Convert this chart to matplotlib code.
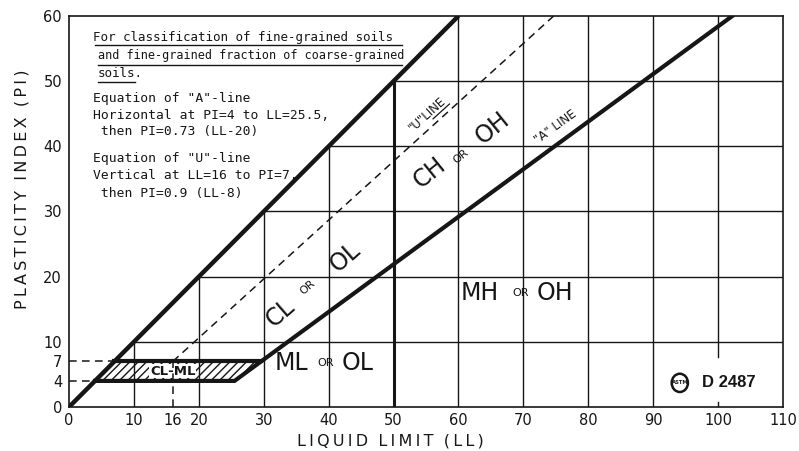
"""
Plasticity chart (ASTM D 2487) for fine-grained soils.
"""

import numpy as np
import matplotlib
matplotlib.use("Agg")
import matplotlib.pyplot as plt
from matplotlib.patches import Polygon, Ellipse

# axis values
ll_ticks = [0, 10, 16, 20, 30, 40, 50, 60, 70, 80, 90, 100, 110]
pi_ticks = [0, 4, 7, 10, 20, 30, 40, 50, 60]
grid_ll = [10, 20, 30, 40, 50, 60, 70, 80, 90, 100]
grid_pi = [10, 20, 30, 40, 50]
ll_max = 110
pi_max = 60

# "A"-line: horizontal at PI=4 to LL=25.5, then PI = 0.73 (LL - 20)
a_pi_flat = 4
a_ll_break = 25.5
a_slope = 0.73
a_offset = 20

# "U"-line: vertical at LL=16 to PI=7, then PI = 0.9 (LL - 8)
u_ll_vert = 16
u_pi_vert = 7
u_slope = 0.9
u_offset = 8

ll_split = 50  # low / high liquid limit boundary

note_lines = [
    "For classification of fine-grained soils",
    "and fine-grained fraction of coarse-grained",
    "soils.",
    'Equation of "A"-line',
    "Horizontal at PI=4 to LL=25.5,",
    " then PI=0.73 (LL-20)",
    'Equation of "U"-line',
    "Vertical at LL=16 to PI=7,",
    " then PI=0.9 (LL-8)",
]

INK = "#161616"
MONO = "DejaVu Sans Mono"


def a_line_ll(pi):
    return a_offset + pi / a_slope


def u_line_ll(pi):
    return u_offset + pi / u_slope


def spaced(s):
    return "\u2009".join(s).replace("\u2009 \u2009", "  ")


fig = plt.figure(figsize=(7.99, 4.51), dpi=100)
ax = fig.add_axes([0.0864, 0.0976, 0.8936, 0.8670])
ax.set_xlim(0, ll_max)
ax.set_ylim(0, pi_max)

for side in ["left", "right", "top", "bottom"]:
    ax.spines[side].set_linewidth(1.2)
    ax.spines[side].set_color(INK)

ax.set_xticks(ll_ticks)
ax.set_yticks(pi_ticks)
ax.tick_params(axis="x", length=0, pad=4, labelsize=10.5, colors=INK)
ax.tick_params(axis="y", direction="in", length=5, width=1.2, pad=5,
               labelsize=10.5, colors=INK)
for t in ax.yaxis.get_major_ticks():
    if t.get_loc() in (0, 4, 7, 60):
        t.tick1line.set_visible(False)

# grid, only below the PI = LL boundary
stamp_gap = (0.8, 7.7)
for x in grid_ll:
    top = min(x, pi_max)
    if x == ll_split:
        ax.plot([x, x], [0, top], color=INK, lw=2.2, solid_capstyle="butt",
                zorder=3)
    elif x == 100:
        ax.plot([x, x], [0, stamp_gap[0]], color=INK, lw=1.0, zorder=1)
        ax.plot([x, x], [stamp_gap[1], top], color=INK, lw=1.0, zorder=1)
    else:
        ax.plot([x, x], [0, top], color=INK, lw=1.0, zorder=1)
for y in grid_pi:
    ax.plot([y, ll_max], [y, y], color=INK, lw=1.0, zorder=1)

# upper boundary PI = LL
ax.plot([0, pi_max], [0, pi_max], color=INK, lw=3.2, zorder=4,
        solid_capstyle="butt")

# "A"-line
a_x = [a_pi_flat, a_ll_break, a_line_ll(pi_max)]
a_y = [a_pi_flat, a_pi_flat, pi_max]
ax.plot(a_x, a_y, color=INK, lw=3.0, zorder=4, solid_joinstyle="miter")

# CL-ML zone
zone = [(a_pi_flat, a_pi_flat), (a_ll_break, a_pi_flat),
        (a_line_ll(u_pi_vert), u_pi_vert), (u_pi_vert, u_pi_vert)]
ax.add_patch(Polygon(zone, closed=True, facecolor="none", edgecolor=INK,
                     lw=0, hatch="////", zorder=2))
ax.plot([u_pi_vert, a_line_ll(u_pi_vert)], [u_pi_vert, u_pi_vert],
        color=INK, lw=3.0, zorder=4)

# "U"-line
dash = (0, (5, 3.5))
ax.plot([u_ll_vert, u_ll_vert], [0, u_pi_vert], color=INK, lw=1.1,
        linestyle=dash, zorder=6)
ax.plot([u_ll_vert, u_line_ll(pi_max)], [u_pi_vert, pi_max], color=INK,
        lw=1.1, linestyle=dash, zorder=3)

# dashed guides at PI = 4 and 7
for y in (a_pi_flat, u_pi_vert):
    ax.plot([0, y], [y, y], color=INK, lw=1.1, linestyle=dash, zorder=3)

# notes
note_y = [56.7, 53.9, 51.2, 47.3, 44.7, 42.2, 38.1, 35.5, 32.8]
note_x = [3.7, 4.4, 4.4, 3.7, 3.7, 3.7, 3.7, 3.7, 3.7]
note_size = [9.0, 8.5, 9.0, 9.4, 9.4, 9.4, 9.4, 9.4, 9.4]
for s, x, y, fs in zip(note_lines, note_x, note_y, note_size):
    ax.text(x, y, s, family=MONO, fontsize=fs, color=INK,
            va="center", ha="left", zorder=5)
ax.plot([4.0, 51.3], [55.5, 55.5], color=INK, lw=1.0, zorder=5)
ax.plot([4.4, 51.3], [52.5, 52.5], color=INK, lw=1.0, zorder=5)
ax.plot([4.4, 10.2], [49.9, 49.9], color=INK, lw=1.0, zorder=5)


def group(items, rot):
    for x, y, s, size in items:
        ax.text(x, y, s, fontsize=size, rotation=rot, color=INK,
                ha="center", va="center", rotation_mode="anchor", zorder=5)


group([(32.5, 14.4, "CL", 17), (36.8, 18.4, "OR", 8), (42.5, 23.0, "OL", 17)],
      41)
group([(55.6, 35.9, "CH", 17), (60.3, 38.5, "OR", 8), (65.3, 42.8, "OH", 17)],
      39)
group([(63.3, 17.5, "MH", 17), (69.6, 17.5, "OR", 8), (74.9, 17.5, "OH", 17)],
      0)
group([(34.3, 6.7, "ML", 17), (39.5, 6.7, "OR", 8), (44.4, 6.7, "OL", 17)],
      0)

# line labels
u_ang = 42
ax.text(55.2, 44.9, '"U"LINE', fontsize=8.5, rotation=u_ang, color=INK,
        ha="center", va="center", rotation_mode="anchor", zorder=5)
d = np.array([np.cos(np.radians(u_ang)), np.sin(np.radians(u_ang))])
n = np.array([d[1], -d[0]])
p0 = np.array([55.2, 44.9]) + 0.2 * d + 1.1 * n
p1 = np.array([55.2, 44.9]) + 3.6 * d + 1.1 * n
ax.plot([p0[0], p1[0]], [p0[1], p1[1]], color=INK, lw=0.9, zorder=5)
ax.text(75.0, 42.9, '"A" LINE', fontsize=8.5, rotation=36, color=INK,
        ha="center", va="center", rotation_mode="anchor", zorder=5)
ax.text(u_ll_vert, 5.5, "CL-ML", fontsize=9.5, fontweight="bold", color=INK,
        ha="center", va="center", zorder=5,
        bbox=dict(boxstyle="square,pad=0.05", fc="white", ec="none"))

# standard stamp
ax.add_patch(Ellipse((94.1, 3.7), 2.5, 2.8, facecolor="white",
                     edgecolor=INK, lw=1.8, zorder=5))
ax.text(94.1, 3.7, "ASTM", fontsize=3.8, fontweight="bold", color=INK,
        ha="center", va="center", zorder=6)
ax.text(101.6, 3.7, "D 2487", family="Liberation Sans", fontsize=12,
        fontweight="bold", color=INK, ha="center", va="center", zorder=5)

fig.text(22 / 799, 1 - 189 / 451, spaced("PLASTICITY INDEX (PI)"),
         rotation=90, fontsize=11.5, color=INK, ha="center", va="center")
fig.text(390 / 799, 1 - 441 / 451, spaced("LIQUID LIMIT (LL)"),
         fontsize=11.5, color=INK, ha="center", va="center")

fig.savefig("out.png", dpi=100, facecolor="white")
plt.close(fig)
